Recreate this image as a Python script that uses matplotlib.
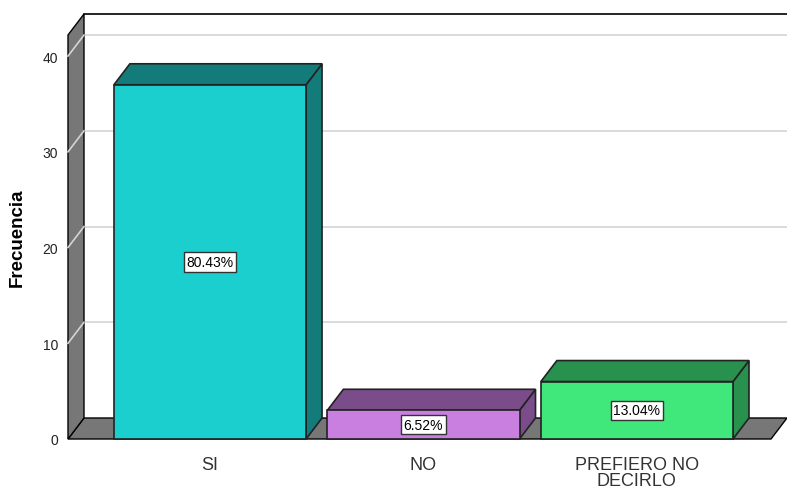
import matplotlib
matplotlib.use("Agg")
import matplotlib.pyplot as plt
from matplotlib.patches import Polygon

categories = ["SI", "NO", "PREFIERO NO\nDECIRLO"]
counts = [37, 3, 6]
pct_labels = ["80.43%", "6.52%", "13.04%"]
front_colors = ["#1ccfcf", "#c97fe0", "#40e87c"]
dark_colors = ["#137c7a", "#7a4d8a", "#27914d"]
yticks = [0, 10, 20, 30, 40]

plt.rcParams['font.family'] = ['Liberation Sans', 'DejaVu Sans']

fig = plt.figure(figsize=(7.87, 4.89), dpi=100)
ax = fig.add_axes([68/787, 1-440/489, (771-68)/787, (440-36)/489])
xmin, xmax = -0.665, 2.628
ymin, ymax = 0, 42.2
ax.set_xlim(xmin, xmax)
ax.set_ylim(ymin, ymax)
for s in ax.spines.values():
    s.set_visible(False)

dx = 16/213.5
dy = 21/9.575
wall = "#777777"
grid = "#d4d4d4"

# back gridlines
for t in yticks[1:]:
    ax.plot([xmin+dx, xmax+dx], [t+dy, t+dy], color=grid, lw=1.2, clip_on=False, zorder=1)

# floor
floor = Polygon([(xmin, 0), (xmin+dx, dy), (xmax+dx, dy), (xmax, 0)], closed=True,
                facecolor=wall, edgecolor="black", lw=1, clip_on=False, zorder=2)
ax.add_patch(floor)
# left wall
lw_ = Polygon([(xmin, 0), (xmin, ymax), (xmin+dx, ymax+dy), (xmin+dx, dy)], closed=True,
              facecolor=wall, edgecolor="black", lw=1, clip_on=False, zorder=2)
ax.add_patch(lw_)
for t in yticks[1:]:
    ax.plot([xmin, xmin+dx], [t, t+dy], color=grid, lw=1.2, clip_on=False, zorder=3)
# top border of back wall
ax.plot([xmin+dx, xmax+dx], [ymax+dy, ymax+dy], color="black", lw=1.2, clip_on=False, zorder=3)

w = 0.9
for i, (c, fc, dc) in enumerate(zip(counts, front_colors, dark_colors)):
    x0, x1 = i - w/2, i + w/2
    front = Polygon([(x0, 0), (x0, c), (x1, c), (x1, 0)], closed=True,
                    facecolor=fc, edgecolor="#222222", lw=1.2, clip_on=False, zorder=5)
    top = Polygon([(x0, c), (x0+dx, c+dy), (x1+dx, c+dy), (x1, c)], closed=True,
                  facecolor=dc, edgecolor="#222222", lw=1.2, clip_on=False, zorder=5)
    side = Polygon([(x1, 0), (x1, c), (x1+dx, c+dy), (x1+dx, dy)], closed=True,
                   facecolor=dc, edgecolor="#222222", lw=1.2, clip_on=False, zorder=5)
    for p in (side, top, front):
        ax.add_patch(p)
    ax.text(i, c/2, pct_labels[i], ha="center", va="center", fontsize=10, zorder=6,
            bbox=dict(boxstyle="square,pad=0.2", facecolor="white", edgecolor="#333333", lw=1))

ax.set_yticks(yticks)
ax.set_yticklabels([str(t) for t in yticks], fontsize=10, color="#222222")
ax.set_xticks(range(len(categories)))
ax.set_xticklabels(categories, fontsize=13, color="#333333", linespacing=0.95)
ax.tick_params(axis="y", length=0, pad=7)
ax.tick_params(axis="x", length=0, pad=12)
ax.set_ylabel("Frecuencia", fontsize=13.5, fontweight="bold", labelpad=12)

fig.savefig("out.png", dpi=100)
